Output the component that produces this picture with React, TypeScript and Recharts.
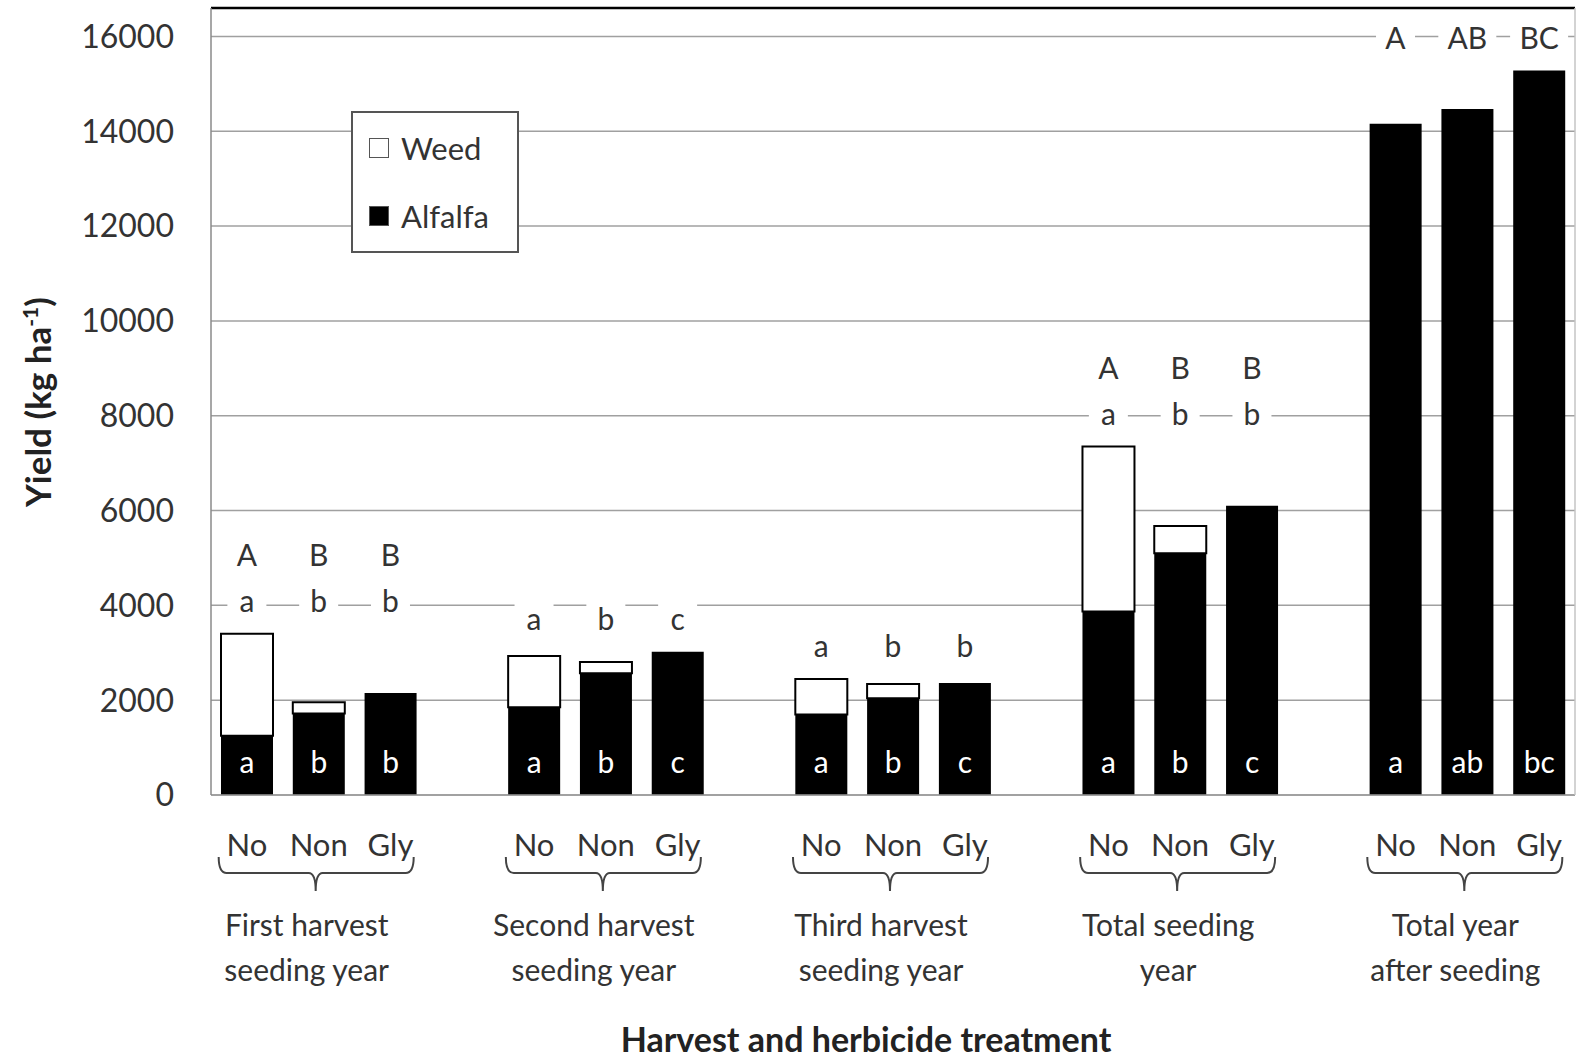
import {
  Bar,
  CartesianGrid,
  ComposedChart,
  LabelList,
  Legend,
  Line,
  ReferenceLine,
  XAxis,
  YAxis,
} from "recharts";

const FONT = "Lato, 'Open Sans', sans-serif";
const TEXT = "#333";

const treatments = ["No", "Non", "Gly"];
const groupNames = [
  ["First harvest", "seeding year"],
  ["Second harvest", "seeding year"],
  ["Third harvest", "seeding year"],
  ["Total seeding", "year"],
  ["Total year", "after seeding"],
];
// kg ha-1, per group: No, Non, Gly
const alfalfa = [
  [1250, 1720, 2150],
  [1850, 2570, 3020],
  [1700, 2040, 2360],
  [3870, 5100, 6100],
  [14160, 14470, 15280],
];
const weed = [
  [2150, 235, 0],
  [1080, 235, 0],
  [745, 300, 0],
  [3480, 575, 0],
  [0, 0, 0],
];
const upperLetters = [["A", "B", "B"], null, null, ["A", "B", "B"], ["A", "AB", "BC"]];
const lowerLetters = [["a", "b", "b"], ["a", "b", "c"], ["a", "b", "b"], ["a", "b", "b"], null];
const innerLetters = [
  ["a", "b", "b"],
  ["a", "b", "c"],
  ["a", "b", "c"],
  ["a", "b", "c"],
  ["a", "ab", "bc"],
];
const yTicks = [0, 2000, 4000, 6000, 8000, 10000, 12000, 14000, 16000];
const yMax = 16600;

type Row = {
  key: string;
  group: number;
  slot: number;
  alfalfa: number | null;
  weed: number | null;
  inner: string | null;
  groupTop: number | null;
};

// 3 bars per group, then an empty slot as spacer
const rows: Row[] = [];
groupNames.forEach((_, g) => {
  const top = Math.max(...alfalfa[g].map((a, t) => a + weed[g][t]));
  treatments.forEach((t, ti) => {
    rows.push({
      key: `${g}-${t}`,
      group: g,
      slot: ti,
      alfalfa: alfalfa[g][ti],
      weed: weed[g][ti],
      inner: innerLetters[g][ti],
      groupTop: top,
    });
  });
  if (g < groupNames.length - 1) {
    rows.push({
      key: `gap-${g}`,
      group: g,
      slot: -1,
      alfalfa: null,
      weed: null,
      inner: null,
      groupTop: null,
    });
  }
});

function CategoryTick(props: any) {
  const { x, y, index } = props;
  const row = rows[index];
  if (!row || row.slot < 0) return <g />;
  const isMiddle = row.slot === 1;
  const L = x - 100;
  const R = x + 95;
  const by = y + 76;
  return (
    <g>
      <text
        x={x}
        y={y + 47}
        textAnchor="middle"
        dominantBaseline="central"
        fontSize={31}
        fontFamily={FONT}
        fill={TEXT}
      >
        {treatments[row.slot]}
      </text>
      {isMiddle && (
        <g>
          <path
            d={`M${L},${by - 16} Q${L},${by} ${L + 8},${by} H${x - 10} Q${x - 3},${by} ${x - 3},${by + 18} Q${x - 3},${by} ${x + 4},${by} H${R - 8} Q${R},${by} ${R},${by - 16}`}
            fill="none"
            stroke="#444"
            strokeWidth={2}
          />
          {groupNames[row.group].map((line, k) => (
            <text
              key={k}
              x={x - 12}
              y={y + 127 + k * 45}
              textAnchor="middle"
              dominantBaseline="central"
              fontSize={30}
              fontFamily={FONT}
              fill={TEXT}
            >
              {line}
            </text>
          ))}
        </g>
      )}
    </g>
  );
}

function InnerLetter(props: any) {
  const { x, y, width, height, value } = props;
  if (value == null || x == null) return null;
  return (
    <text
      x={x + width / 2}
      y={y + height - 34}
      textAnchor="middle"
      dominantBaseline="central"
      fontSize={30}
      fontFamily={FONT}
      fill="#fff"
    >
      {value}
    </text>
  );
}

function renderGroupLetters(props: any) {
  const { cx, cy, index } = props;
  const row = rows[index];
  if (!row || row.slot < 0 || cy == null || cx == null) return <g key={`l-${index}`} />;
  const lines = [upperLetters[row.group], lowerLetters[row.group]]
    .filter((l): l is string[] => l !== null)
    .map((l) => l[row.slot]);
  return (
    <g key={`l-${index}`}>
      {lines.map((txt, k) => {
        const yy = cy - 34 - (lines.length - 1 - k) * 46;
        const w = txt.length * 19 + 20;
        return (
          <g key={k}>
            <rect x={cx - w / 2} y={yy - 16} width={w} height={32} fill="#fff" />
            <text
              x={cx}
              y={yy}
              textAnchor="middle"
              dominantBaseline="central"
              fontSize={30}
              fontFamily={FONT}
              fill={TEXT}
            >
              {txt}
            </text>
          </g>
        );
      })}
    </g>
  );
}

function LegendBox() {
  const item = (label: string, fill: string) => (
    <div style={{ display: "flex", alignItems: "center", height: 46 }}>
      <span
        style={{
          display: "inline-block",
          width: 18,
          height: 18,
          background: fill,
          border: "1.5px solid #555",
          marginRight: 12,
        }}
      />
      <span style={{ fontSize: 31, color: TEXT }}>{label}</span>
    </div>
  );
  return (
    <div
      style={{
        border: "2px solid #555",
        background: "#fff",
        width: 168,
        height: 142,
        boxSizing: "border-box",
        padding: "12px 0 0 16px",
        fontFamily: FONT,
        display: "flex",
        flexDirection: "column",
        gap: 22,
      }}
    >
      {item("Weed", "#fff")}
      {item("Alfalfa", "#000")}
    </div>
  );
}

export default function App() {
  return (
    <div style={{ position: "absolute", left: 0, top: 0, width: 1578, height: 1059, background: "#fff" }}>
      <ComposedChart
        width={1578}
        height={1059}
        data={rows}
        margin={{ top: 8, right: 0, left: 0, bottom: 0 }}
        barCategoryGap={0}
      >
        <CartesianGrid vertical={false} stroke="#a0a0a0" strokeWidth={1.5} />
        <XAxis
          dataKey="key"
          height={264}
          interval={0}
          tickLine={false}
          tickSize={0}
          axisLine={{ stroke: "#9a9a9a", strokeWidth: 1.5 }}
          tick={<CategoryTick />}
        />
        <YAxis
          width={211}
          domain={[0, yMax]}
          ticks={yTicks}
          tickLine={false}
          tickSize={0}
          tickMargin={37}
          axisLine={{ stroke: "#8a8a8a", strokeWidth: 1.5 }}
          tick={{ fontSize: 32, fontFamily: FONT, fill: TEXT }}
        />
        <YAxis
          yAxisId="right"
          orientation="right"
          width={3}
          domain={[0, yMax]}
          tick={false}
          tickLine={false}
          axisLine={{ stroke: "#c4c4c4", strokeWidth: 1.5 }}
        />
        <ReferenceLine y={yMax} stroke="#000" strokeWidth={2.5} />
        <Bar dataKey="alfalfa" stackId="s" fill="#000" barSize={52} isAnimationActive={false}>
          <LabelList dataKey="inner" content={<InnerLetter />} />
        </Bar>
        <Bar
          dataKey="weed"
          stackId="s"
          fill="#fff"
          stroke="#000"
          strokeWidth={2}
          barSize={52}
          isAnimationActive={false}
        />
        <Line
          dataKey="groupTop"
          stroke="none"
          dot={renderGroupLetters}
          activeDot={false}
          legendType="none"
          isAnimationActive={false}
        />
        <Legend
          layout="vertical"
          align="center"
          verticalAlign="middle"
          content={<LegendBox />}
          wrapperStyle={{ left: 351, top: 111, width: 168, height: 142 }}
        />
      </ComposedChart>
      <div
        style={{
          position: "absolute",
          left: 37,
          top: 402,
          transform: "translate(-50%, -50%) rotate(-90deg)",
          whiteSpace: "nowrap",
          fontFamily: FONT,
          fontWeight: 700,
          fontSize: 35,
          color: "#222",
        }}
      >
        Yield (kg ha<sup style={{ fontSize: 21 }}>-1</sup>)
      </div>
      <div
        style={{
          position: "absolute",
          left: 866,
          top: 1039,
          transform: "translate(-50%, -50%)",
          whiteSpace: "nowrap",
          fontFamily: FONT,
          fontWeight: 700,
          fontSize: 34,
          lineHeight: "38px",
          color: "#222",
        }}
      >
        Harvest and herbicide treatment
      </div>
    </div>
  );
}
